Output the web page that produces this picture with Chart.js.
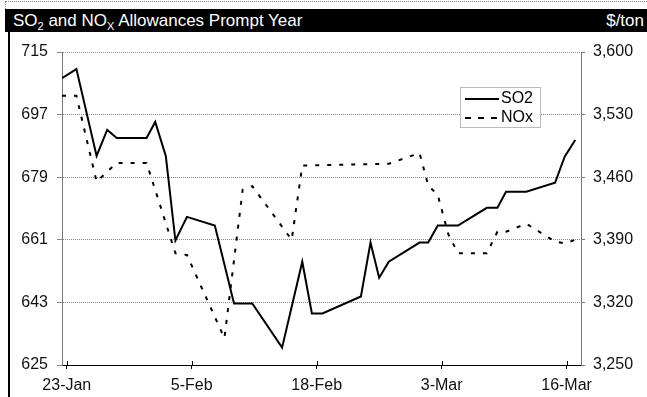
<!DOCTYPE html>
<html>
<head>
<meta charset="utf-8">
<script src="https://cdn.jsdelivr.net/npm/chart.js@4.4.1/dist/chart.umd.min.js"></script>
<style>
  body { margin: 0; background: #fff; font-family: 'Liberation Sans', Arial, sans-serif; }
  #wrap { position: relative; width: 647px; height: 397px; overflow: hidden; }
  #frameTop { position: absolute; left: 5px; top: 1px; width: 642px; height: 8px; border-top: 1px dotted #888; border-left: 1px dotted #888; box-sizing: border-box; }
  #titleBar { position: absolute; left: 5px; top: 9px; width: 642px; height: 23px; background: #000; color: #fff; font-size: 17px; line-height: 23px; white-space: nowrap; }
  #titleBar .left { position: absolute; left: 8px; top: 0; }
  #titleBar .right { position: absolute; right: 3px; top: 0; }
  #titleBar sub { font-size: 11px; vertical-align: -4px; line-height: 0; }
  #frameLeft { position: absolute; left: 8px; top: 32px; width: 2px; height: 365px; background: #000; }
  #chartBox { position: absolute; left: 0; top: 0; width: 647px; height: 397px; }
</style>
</head>
<body>
<div id="wrap">
  <div id="chartBox"><canvas id="allowCanvas"></canvas></div>
  <div id="frameTop"></div>
  <div id="titleBar">
    <span class="left">SO<sub>2</sub> and NO<sub>X</sub> Allowances Prompt Year</span>
    <span class="right">$/ton</span>
  </div>
  <div id="frameLeft"></div>
</div>
<script>
// days after 23-Jan
const dayOffsets = [-0.5, 1.0, 3.1, 4.2, 5.2, 8.3, 9.2, 10.3, 11.3, 12.5, 15.4, 16.4, 17.4, 18.3, 19.3,
    22.4, 23.4, 24.5, 25.5, 26.6, 30.6, 31.6, 32.5, 33.5, 36.7, 37.6, 38.6, 39.7, 40.7, 43.7,
    44.8, 45.7, 47.8, 50.8, 51.8, 52.9];

// SO2, left axis ($/ton); null = no change of direction at that day
const so2Prices = [707.5, 710.1, 685.1, 692.6, 690.3, 690.3, 694.9, 685.1, 660.8, 667.6, 665.1, null, 642.7, null, 642.7,
    630.0, null, 654.7, 639.8, 639.8, 644.7, 660.2, 650.1, 654.7, 660.2, 660.2, 665.1, null, 665.1, 670.2,
    670.2, 674.8, 674.8, 677.4, 684.9, 689.7];

// NOx, right axis ($/ton)
const noxPrices = [3551, 3551, 3455, null, 3476, 3476, null, null, 3375, 3373, null, 3280, null, 3446, 3450,
    null, 3390, 3473, null, null, null, null, null, 3475, 3487, 3451, 3440, 3396, 3375, 3375,
    3399, 3399, 3408, 3388, 3386, 3390];

const dateTickDays = [0, 13, 26, 39, 52];
const dateTickLabels = ['23-Jan', '5-Feb', '18-Feb', '3-Mar', '16-Mar'];
const so2Ticks = [625, 643, 661, 679, 697, 715];
const noxTicks = [3250, 3320, 3390, 3460, 3530, 3600];

const toPoints = (values) => dayOffsets
    .map((d, i) => ({ x: d, y: values[i] }))
    .filter(p => p.y !== null);

const axisFont = { family: "'Liberation Sans', Arial, sans-serif", size: 16 };

// legend box drawn inside the plot, top right
const legendBox = {
    id: 'legendBox',
    afterDraw(chart) {
        const ctx = chart.ctx;
        const a = chart.chartArea;
        const x = a.right - 121, y = a.top + 35, w = 80, h = 40;
        ctx.save();
        ctx.fillStyle = '#fff';
        ctx.fillRect(x, y, w, h);
        ctx.strokeStyle = '#777';
        ctx.lineWidth = 1;
        ctx.setLineDash([1, 1]);
        ctx.strokeRect(x + 0.5, y + 0.5, w, h);

        ctx.strokeStyle = '#000';
        ctx.lineWidth = 2;
        ctx.setLineDash([]);
        ctx.beginPath();
        ctx.moveTo(x + 5, y + 12);
        ctx.lineTo(x + 39, y + 12);
        ctx.stroke();

        ctx.setLineDash([6, 7]);
        ctx.beginPath();
        ctx.moveTo(x + 5, y + 31);
        ctx.lineTo(x + 39, y + 31);
        ctx.stroke();

        ctx.fillStyle = '#000';
        ctx.font = "16px 'Liberation Sans', Arial, sans-serif";
        ctx.textBaseline = 'middle';
        ctx.fillText('SO2', x + 41, y + 12);
        ctx.fillText('NOx', x + 41, y + 31);
        ctx.restore();
    }
};

// small tick marks that cross the date axis, as in the original
const dateTickMarks = {
    id: 'dateTickMarks',
    afterDraw(chart) {
        const ctx = chart.ctx;
        const xs = chart.scales.x;
        const bottom = chart.chartArea.bottom;
        ctx.save();
        ctx.strokeStyle = '#000';
        ctx.lineWidth = 1;
        dateTickDays.forEach(d => {
            const px = Math.round(xs.getPixelForValue(d)) + 0.5;
            ctx.beginPath();
            ctx.moveTo(px, bottom - 4);
            ctx.lineTo(px, bottom);
            ctx.stroke();
        });
        ctx.restore();
    }
};

new Chart(document.getElementById('allowCanvas'), {
    type: 'line',
    data: {
        datasets: [{
            label: 'SO2',
            data: toPoints(so2Prices),
            yAxisID: 'y',
            borderColor: '#000',
            borderWidth: 2,
            pointRadius: 0,
            tension: 0
        }, {
            label: 'NOx',
            data: toPoints(noxPrices),
            yAxisID: 'y1',
            borderColor: '#000',
            borderWidth: 2,
            borderDash: [4, 8],
            pointRadius: 0,
            tension: 0
        }]
    },
    options: {
        responsive: true,
        maintainAspectRatio: false,
        animation: false,
        layout: { padding: { left: 10, top: 52, right: 0, bottom: 0 } },
        plugins: {
            legend: { display: false },
            tooltip: { enabled: false }
        },
        scales: {
            x: {
                type: 'linear',
                min: -0.5,
                max: 53.5,
                afterBuildTicks: (s) => { s.ticks = dateTickDays.map(v => ({ value: v })); },
                afterFit: (s) => { s.height = 32; },
                ticks: {
                    autoSkip: false,
                    maxRotation: 0,
                    color: '#111',
                    font: axisFont,
                    padding: 7,
                    callback: (v) => dateTickLabels[dateTickDays.indexOf(v)]
                },
                grid: { drawOnChartArea: false, drawTicks: true, tickLength: 4, color: '#000' },
                border: { color: '#000', width: 1 }
            },
            y: {
                position: 'left',
                min: 625,
                max: 715,
                afterBuildTicks: (s) => { s.ticks = so2Ticks.map(v => ({ value: v })); },
                afterFit: (s) => { s.width = 52; },
                ticks: { color: '#111', font: axisFont, padding: 9 },
                grid: { color: '#8a8a8a', lineWidth: 1, tickLength: 5 },
                border: { color: '#777', dash: [1, 1] }
            },
            y1: {
                position: 'right',
                min: 3250,
                max: 3600,
                afterBuildTicks: (s) => { s.ticks = noxTicks.map(v => ({ value: v })); },
                afterFit: (s) => { s.width = 66; },
                ticks: {
                    color: '#111',
                    font: axisFont,
                    padding: 8,
                    callback: (v) => v.toLocaleString('en-US')
                },
                grid: { drawOnChartArea: false, tickLength: 4, color: '#777' },
                border: { color: '#777' }
            }
        }
    },
    plugins: [legendBox, dateTickMarks]
});
</script>
</body>
</html>
